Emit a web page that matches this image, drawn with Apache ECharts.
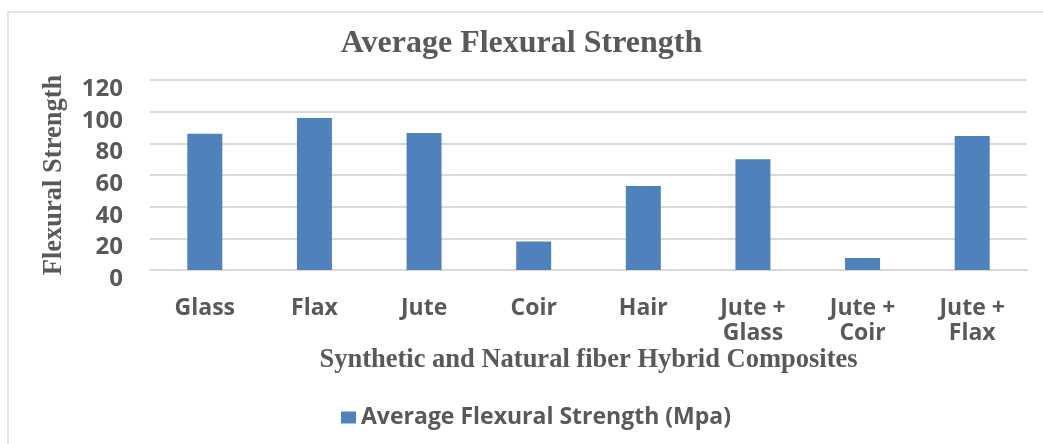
<!DOCTYPE html>
<html>
<head>
<meta charset="utf-8">
<script src="https://cdn.jsdelivr.net/npm/echarts@6/dist/echarts.min.js"></script>
<style>
  html, body { margin: 0; padding: 0; background: #fff; }
  #chart { width: 1043px; height: 444px; }
</style>
</head>
<body>
<div id="chart"></div>
<script>
// data
const categories = ['Glass', 'Flax', 'Jute', 'Coir', 'Hair', 'Jute +\nGlass', 'Jute +\nCoir', 'Jute +\nFlax'];
const strength = [86, 96, 86.5, 18, 53, 70, 7.6, 84.6];
const seriesName = 'Average Flexural Strength (Mpa)';

const textColor = '#595959';
const serif = '"Liberation Serif", "DejaVu Serif", serif';
const sans = '"Open Sans", "Noto Sans", sans-serif';

let chart = echarts.init(document.getElementById('chart'));
chart.setOption({
  animation: false,
  graphic: [{
    type: 'rect',
    shape: { x: 8, y: 12, width: 1100, height: 500 },
    style: { fill: 'none', stroke: '#d9d9d9', lineWidth: 1.5 }
  }],
  title: {
    text: 'Average Flexural Strength',
    left: 'center',
    top: 23,
    textStyle: { fontFamily: serif, fontSize: 32, fontWeight: 'bold', color: textColor }
  },
  legend: {
    left: 336,
    top: 401,
    itemWidth: 15,
    itemHeight: 12,
    icon: 'rect',
    textStyle: { fontFamily: sans, fontSize: 23, fontWeight: 'bold', color: textColor }
  },
  grid: { left: 150, right: 16, top: 80, bottom: 174 },
  xAxis: {
    type: 'category',
    data: categories,
    name: 'Synthetic and Natural fiber Hybrid Composites',
    nameLocation: 'middle',
    nameGap: 77,
    nameTextStyle: { fontFamily: serif, fontSize: 26.5, fontWeight: 'bold', color: textColor },
    axisLine: { lineStyle: { color: '#d9d9d9', width: 2 } },
    axisTick: { show: false },
    axisLabel: {
      interval: 0,
      margin: 26,
      fontFamily: sans, fontSize: 23, fontWeight: 'bold', color: textColor,
      lineHeight: 25
    }
  },
  yAxis: {
    type: 'value',
    min: 0,
    max: 120,
    interval: 20,
    name: 'Flexural Strength',
    nameLocation: 'middle',
    nameGap: 82,
    nameTextStyle: { fontFamily: serif, fontSize: 26.5, fontWeight: 'bold', color: textColor },
    axisLine: { show: false },
    axisTick: { show: false },
    axisLabel: {
      margin: 27, verticalAlign: 'top', lineHeight: 18,
      fontFamily: sans, fontSize: 24, fontWeight: 'bold', color: textColor
    },
    splitLine: { lineStyle: { color: '#d9d9d9', width: 2 } }
  },
  series: [{
    name: seriesName,
    type: 'bar',
    data: strength,
    barWidth: 35,
    itemStyle: { color: '#4f81bd' }
  }]
});
window.addEventListener('resize', function () {
  chart.resize();
});
</script>
</body>
</html>
